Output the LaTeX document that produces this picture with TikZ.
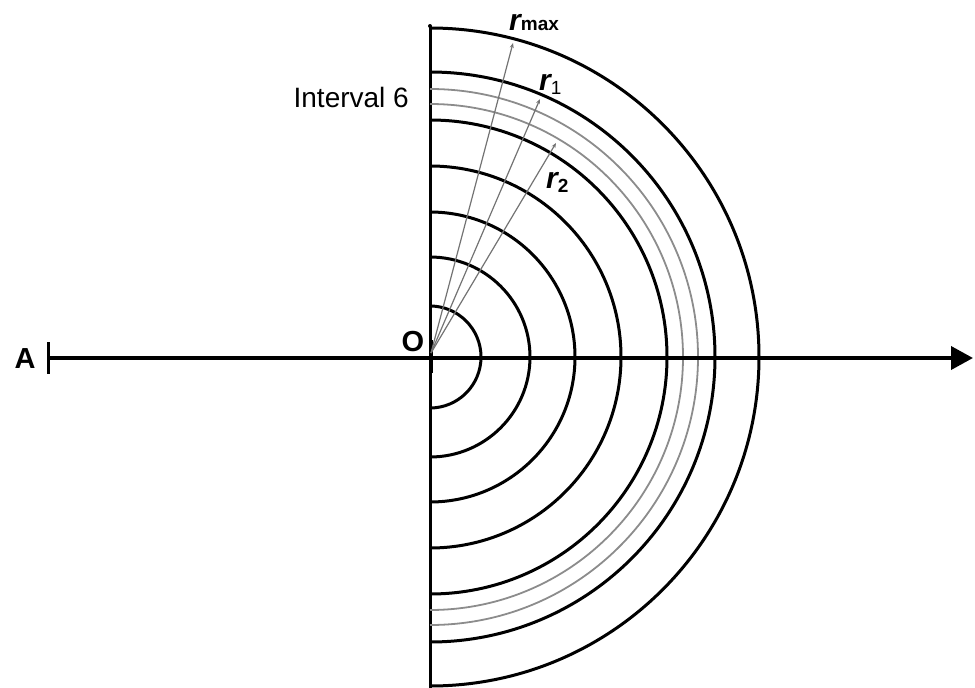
\documentclass[tikz,border=0pt]{standalone}
\usepackage{fontspec}
\setmainfont{Liberation Sans}
\usetikzlibrary{arrows.meta}
\begin{document}
\begin{tikzpicture}[x=1pt,y=-1pt,
  blk/.style={line width=3pt,black},
  gry/.style={line width=1.8pt,black!45},
  ray/.style={line width=1.2pt,black!55,-{Stealth[length=5pt,width=4pt]}},
  lbl/.style={inner sep=0pt,font=\fontsize{28}{30}\selectfont}]
\useasboundingbox (0,0) rectangle (975,688);
\coordinate (C) at (430,357);
\coordinate (R) at (431,353);
% vertical axis
\coordinate (vtop) at (430,26);
\coordinate (vbot) at (430,690);
\draw[blk] (vtop) -- (vbot);
\fill (vtop) circle (2);
% arcs
\foreach \r in {51,100,145,191,237,285,329}
  \draw[blk] (430,357-\r) arc[start angle=-90,end angle=90,radius=\r];
\foreach \r in {253,268}
  \draw[gry] (430,357-\r) arc[start angle=-90,end angle=90,radius=\r];
% horizontal axis
\coordinate (Aend) at (48,358);
\coordinate (Xend) at (973,358);
\draw[line width=3.8pt,-{Triangle[length=22pt,width=23pt]}] (Aend) -- (Xend);
\draw[blk] (48,342) -- (48,374);
\draw[line width=4.5pt] (431,340) -- (431,373);
% rays
\coordinate (tmax) at (513,43);
\coordinate (t1) at (540,99);
\coordinate (t2) at (556,143);
\draw[ray] (R) -- (tmax);
\draw[ray] (R) -- (t1);
\draw[ray] (R) -- (t2);
% labels
\node[lbl,font=\fontsize{29}{30}\selectfont\bfseries] (A) at (25,359) {A};
\node[lbl,font=\fontsize{29}{30}\selectfont\bfseries] (O) at (413,342) {O};
\node[lbl,anchor=base east] (int) at (409,107) {Interval 6};
\node[inner sep=0pt,anchor=base west] (lmax) at (509,30) {\fontsize{30}{30}\selectfont\bfseries\itshape r\fontsize{19}{20}\selectfont\upshape max};
\node[inner sep=0pt,anchor=base west] (l1) at (539,90) {\fontsize{30}{30}\selectfont\bfseries\itshape r\raisebox{-4pt}{\fontsize{19}{20}\selectfont\upshape\mdseries 1}};
\node[inner sep=0pt,anchor=base west] (l2) at (546,188) {\fontsize{30}{30}\selectfont\bfseries\itshape r\raisebox{-4pt}{\fontsize{19}{20}\selectfont\upshape 2}};
\end{tikzpicture}
\end{document}
